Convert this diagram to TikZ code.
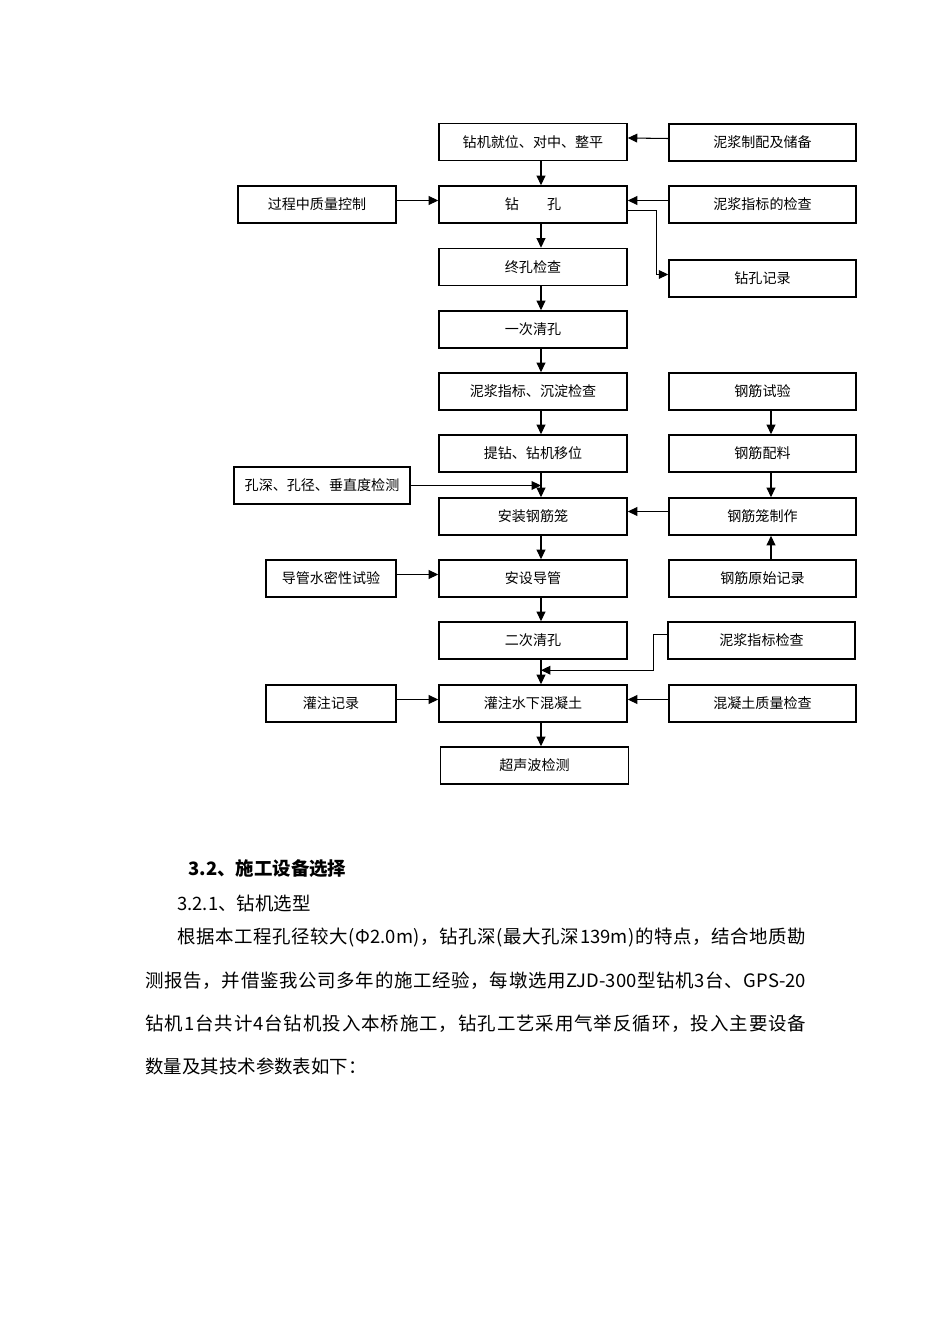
\documentclass[tikz,border=0pt]{standalone}
\usepackage{fontspec}
\newfontfamily\cjk{Noto Sans CJK SC}
\usetikzlibrary{arrows.meta,calc,positioning}
% glue between the characters of a justified line
\ExplSyntaxOn
\cs_new_protected:Npn \spreadchars #1 { \tl_map_inline:nn {#1} { ##1 \hfil } \unskip }
\ExplSyntaxOff
\newcommand\spreadline[2]{\makebox[#1][s]{\spreadchars{#2}}}
\begin{document}
\begin{tikzpicture}[x=0.02cm,y=-0.02cm]
		\tikzstyle{every node}=[font={\cjk\fontsize{8pt}{10pt}\selectfont}]
		\tikzstyle{box}=[draw,line width=0.9pt,minimum width=3.76cm,minimum height=0.74cm,inner sep=0pt]
		\tikzstyle{arr}=[line width=0.6pt,-{Triangle[length=5.4pt,width=5pt]}]
		\tikzstyle{txt}=[anchor=west,inner sep=0pt,font={\cjk\fontsize{10.5pt}{12pt}\selectfont}]
		\fill[white] (0,0) rectangle (950,1344);
		\useasboundingbox (0,0) rectangle (950,1344);
		\coordinate (spine) at (541,0);
		\coordinate (rspine) at (771,0);
		% main column
		\node[box] (c1) at (533,142) {钻机就位、对中、整平};
		\node[box] (c2) at (533,204.5) {钻\hspace{2em}孔};
		\node[box] (c3) at (533,267) {终孔检查};
		\node[box] (c4) at (533,329.5) {一次清孔};
		\node[box] (c5) at (533,391.5) {泥浆指标、沉淀检查};
		\node[box] (c6) at (533,453.5) {提钻、钻机移位};
		\node[box] (c7) at (533,516.5) {安装钢筋笼};
		\node[box] (c8) at (533,578.5) {安设导管};
		\node[box] (c9) at (533,640.5) {二次清孔};
		\node[box] (c10) at (533,703.5) {灌注水下混凝土};
		\node[box] (c11) at (534.5,765.5) {超声波检测};
		% right column
		\node[box,minimum width=3.74cm] (r1) at (762.5,142.5) {泥浆制配及储备};
		\node[box,minimum width=3.74cm] (r2) at (762.5,204.5) {泥浆指标的检查};
		\node[box,minimum width=3.74cm] (r3) at (762.5,278.5) {钻孔记录};
		\node[box,minimum width=3.74cm] (r5) at (762.5,391.5) {钢筋试验};
		\node[box,minimum width=3.74cm] (r6) at (762.5,453.5) {钢筋配料};
		\node[box,minimum width=3.74cm] (r7) at (762.5,516.5) {钢筋笼制作};
		\node[box,minimum width=3.74cm] (r8) at (762.5,578.5) {钢筋原始记录};
		\node[box,minimum width=3.74cm] (r9) at (761.5,640.5) {泥浆指标检查};
		\node[box,minimum width=3.74cm] (r10) at (762.5,703.5) {混凝土质量检查};
		% left column
		\node[box,minimum width=3.16cm] (l2) at (317,204.5) {过程中质量控制};
		\node[box,minimum width=3.52cm] (l6) at (322,485.5) {孔深、孔径、垂直度检测};
		\node[box,minimum width=2.6cm] (l8) at (331,578.5) {导管水密性试验};
		\node[box,minimum width=2.6cm] (l10) at (331,703.5) {灌注记录};
		% arrows
		\foreach \a/\b in {c1/c2,c2/c3,c3/c4,c4/c5,c5/c6,c6/c7,c7/c8,c8/c9,c9/c10,c10/c11}
			\draw[arr] (\a.south -| spine) -- (\b.north -| spine);
		\draw[arr] (r5.south -| rspine) -- (r6.north -| rspine);
		\draw[arr] (r6.south -| rspine) -- (r7.north -| rspine);
		\draw[arr] (r8.north -| rspine) -- (r7.south -| rspine);
		\draw[arr] ($(r1.west)+(0,-4)$) -- ($(c1.east)+(0,-4)$);
		\draw[arr] ($(l2.east)+(0,-4)$) -- ($(c2.west)+(0,-4)$);
		\draw[arr] ($(r2.west)+(0,-4)$) -- ($(c2.east)+(0,-4)$);
		\draw[arr] ($(c2.east)+(0,6)$) -- ++(29,0) |- ($(r3.west)+(0,-4)$);
		\draw[arr] (l6.east) -- (l6.east -| spine);
		\draw[arr] ($(r7.west)+(0,-5)$) -- ($(c7.east)+(0,-5)$);
		\draw[arr] ($(l8.east)+(0,-4)$) -- ($(c8.west)+(0,-4)$);
		\draw[arr] ($(r9.west)+(0,-6)$) -- ++(-14,0) |- ($(c10.north -| spine)+(0,-14)$);
		\draw[arr] ($(l10.east)+(0,-4)$) -- ($(c10.west)+(0,-4)$);
		\draw[arr] ($(r10.west)+(0,-4)$) -- ($(c10.east)+(0,-4)$);
		% text below
		\node[txt,font={\cjk\bfseries\fontsize{10.5pt}{12pt}\selectfont}] (head) at (188,869) {3.2、施工设备选择};
		\node[txt] (subhead) at (177,903) {3.2.1、钻机选型};
		\node[txt] (line1) at (177,938) {\spreadline{12.58cm}{根据本工程孔径较大({Φ2.0m})，钻孔深(最大孔深{139m})的特点，结合地质勘}};
		\node[txt] (line2) at (145,981) {\spreadline{13.22cm}{测报告，并借鉴我公司多年的施工经验，每墩选用{ZJD-300}型钻机3台、{GPS-20}}};
		\node[txt] (line3) at (145,1024) {\spreadline{13.22cm}{钻机1台共计4台钻机投入本桥施工，钻孔工艺采用气举反循环，投入主要设备}};
		\node[txt] (line4) at (145,1066) {数量及其技术参数表如下：};
	\end{tikzpicture}
\end{document}
